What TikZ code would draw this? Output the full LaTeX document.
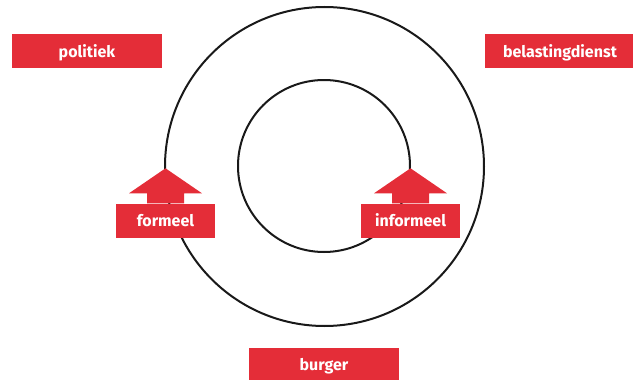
\documentclass[tikz,border=0pt]{standalone}
\usepackage{fontspec}
\setmainfont{Fira Sans}
\definecolor{tagred}{HTML}{E42D38}
\tikzset{tag/.style={fill=tagred,text=white,font=\bfseries\fontsize{16}{18}\selectfont,rectangle,inner sep=0pt,minimum height=34pt,text depth=0.5pt}}
\tikzset{ring/.style={draw=black!90,line width=2pt,circle,inner sep=0pt}}
\tikzset{uparrow/.style={fill=tagred}}

\begin{document}
\begin{tikzpicture}[x=1pt,y=-1pt]
            \useasboundingbox (0,0) rectangle (633,380);
            \node[ring,minimum size=319pt] (outer) at (324.5,166.5) {};
            \node[ring,minimum size=172pt] (inner) at (324,166) {};
            \node[tag,minimum width=150pt] (politiek) at (87,51) {politiek};
            \node[tag,minimum width=150pt] (belasting) at (560,51) {belastingdienst};
            \node[tag,minimum width=150pt] (burger) at (324,365) {burger};
            \node[tag,minimum width=99pt] (formeel) at (165.5,220.5) {formeel};
            \node[tag,minimum width=99pt] (informeel) at (410.5,220.5) {informeel};
            \foreach \n in {formeel,informeel}
                \fill[uparrow] ([xshift=-18.5pt]\n.north) -- ++(0,-10) -- ++(-18,0) -- ++(36.5,-25) -- ++(36.5,25) -- ++(-18,0) -- ++(0,10) -- cycle;
            \end{tikzpicture}
\end{document}
